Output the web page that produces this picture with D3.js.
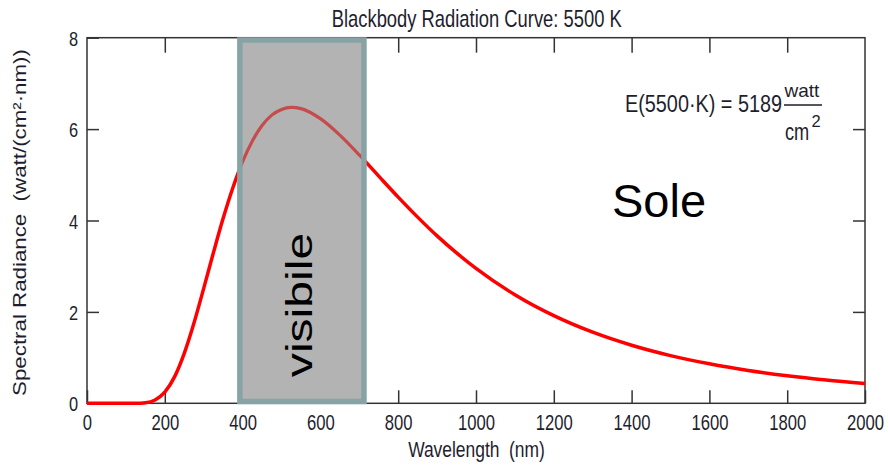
<!DOCTYPE html>
<html>
<head>
<meta charset="utf-8">
<script src="https://cdn.jsdelivr.net/npm/d3@7"></script>
<style>
  html, body { margin: 0; padding: 0; background: #fff; }
  svg { display: block; }
  text { font-family: "Liberation Sans", Arial, sans-serif; white-space: pre; }
</style>
</head>
<body>
<svg id="chart" width="890" height="466"></svg>
<script>
// ---- data ----
const wavelength = [0, 50, 100, 125, 150, 175, 200, 225, 250, 275, 300, 325, 350, 375, 400, 425, 450, 475, 500, 525, 550, 600, 650, 700, 750, 800, 850, 900, 950, 1000, 1100, 1200, 1300, 1400, 1500, 1600, 1700, 1800, 1900, 2000];
const radiance   = [0, 0, 0, 0.001, 0.013, 0.074, 0.244, 0.578, 1.094, 1.758, 2.515, 3.297, 4.047, 4.717, 5.286, 5.740, 6.078, 6.306, 6.431, 6.475, 6.449, 6.228, 5.868, 5.434, 4.971, 4.512, 4.074, 3.663, 3.290, 2.951, 2.375, 1.917, 1.555, 1.270, 1.044, 0.864, 0.720, 0.604, 0.510, 0.433];
const xTicks = [0, 200, 400, 600, 800, 1000, 1200, 1400, 1600, 1800, 2000];
const yTicks = [0, 2, 4, 6, 8];
const visibleBand = [393, 712];     // nm
const visibleBandY = [0.04, 7.95];  // radiance units
const titleText = "Blackbody Radiation Curve: 5500 K";
const xLabel = "Wavelength  (nm)";
const yLabel = "Spectral Radiance  (watt/(cm\u00B2\u00B7nm))";

const svg = d3.select("#chart");
const x = d3.scaleLinear().domain([0, 2000]).range([87, 865]);
const y = d3.scaleLinear().domain([0, 8]).range([403.3, 37.7]);

const pts = wavelength.map((w, i) => [w, radiance[i]]);
const line = d3.line().x(d => x(d[0])).y(d => y(d[1])).curve(d3.curveMonotoneX);

// clip for the band interior
const bx0 = x(visibleBand[0]), bx1 = x(visibleBand[1]);
const by0 = y(visibleBandY[1]), by1 = y(visibleBandY[0]);
svg.append("defs").append("clipPath").attr("id", "bandClip")
  .append("rect").attr("x", bx0).attr("y", by0).attr("width", bx1 - bx0).attr("height", by1 - by0);

// axes ticks (inward on all four sides)
const gB = svg.append("g").attr("transform", `translate(0,${y(0)})`)
  .call(d3.axisBottom(x).tickValues(xTicks).tickSizeInner(-13).tickSizeOuter(0).tickFormat(d3.format("d")));
const gT = svg.append("g").attr("transform", `translate(0,${y(8)})`)
  .call(d3.axisTop(x).tickValues(xTicks.slice(1, -1)).tickSizeInner(-15).tickSizeOuter(0).tickFormat(""));
const gL = svg.append("g").attr("transform", `translate(${x(0)},0)`)
  .call(d3.axisLeft(y).tickValues(yTicks).tickSizeInner(-12).tickSizeOuter(0).tickFormat(d3.format("d")));
const gR = svg.append("g").attr("transform", `translate(${x(2000)},0)`)
  .call(d3.axisRight(y).tickValues(yTicks.slice(1, -1)).tickSizeInner(-12).tickSizeOuter(0).tickFormat(""));
[gB, gT, gL, gR].forEach(g => {
  g.select(".domain").remove();
  g.selectAll(".tick line").attr("stroke", "#333").attr("stroke-width", 1.5);
});
gB.selectAll(".tick text")
  .attr("y", 27).attr("dy", 0)
  .attr("fill", "#1e1e2e")
  .style("font-size", "22.5px")
  .attr("transform", "scale(0.74,1)");
gL.selectAll(".tick text")
  .attr("x", -9 / 0.78).attr("dy", "0.36em")
  .attr("fill", "#1e1e2e")
  .style("font-size", "21px")
  .attr("transform", "scale(0.78,1)");

// frame
svg.append("rect")
  .attr("x", x(0)).attr("y", y(8))
  .attr("width", x(2000) - x(0)).attr("height", y(0) - y(8))
  .attr("fill", "none").attr("stroke", "#333").attr("stroke-width", 1.5);

// curve
svg.append("path").datum(pts).attr("d", line)
  .attr("fill", "none").attr("stroke", "#ff0000").attr("stroke-width", 3.5)
  .attr("stroke-linejoin", "round");

// visible band
svg.append("rect").attr("x", bx0).attr("y", by0).attr("width", bx1 - bx0).attr("height", by1 - by0)
  .attr("fill", "#b3b3b3");
svg.append("path").datum(pts).attr("d", line).attr("clip-path", "url(#bandClip)")
  .attr("fill", "none").attr("stroke", "#c44c4c").attr("stroke-width", 3.2);
svg.append("rect").attr("x", bx0).attr("y", by0).attr("width", bx1 - bx0).attr("height", by1 - by0)
  .attr("fill", "none").attr("stroke", "#88a3a5").attr("stroke-width", 5.5);

// title
svg.append("text").attr("transform", "translate(476.7,27) scale(0.766,1)")
  .attr("text-anchor", "middle").style("font-size", "24px").attr("fill", "#1e1e2e")
  .text(titleText);

// x label
svg.append("text").attr("transform", "translate(476.5,457) scale(0.81,1)")
  .attr("text-anchor", "middle").style("font-size", "21.5px").attr("fill", "#1e1e2e")
  .text(xLabel);

// y label
svg.append("text").attr("transform", "translate(26,222.5) rotate(-90) scale(1.26,1)")
  .attr("text-anchor", "middle").style("font-size", "17.7px").attr("fill", "#1e1e2e")
  .text(yLabel);

// formula
svg.append("text").attr("transform", "translate(625,112) scale(0.862,1)")
  .style("font-size", "23px").attr("fill", "#1e1e2e")
  .text("E(5500\u00B7K) = 5189");
svg.append("text").attr("transform", "translate(784.5,97)")
  .style("font-size", "19px").attr("fill", "#1e1e2e")
  .text("watt");
svg.append("line").attr("x1", 784).attr("x2", 822).attr("y1", 105).attr("y2", 105)
  .attr("stroke", "#1e1e2e").attr("stroke-width", 1.5);
svg.append("text").attr("transform", "translate(785,140) scale(0.76,1)")
  .style("font-size", "24px").attr("fill", "#1e1e2e")
  .text("cm");
svg.append("text").attr("transform", "translate(811.5,127)")
  .style("font-size", "16.5px").attr("fill", "#1e1e2e")
  .text("2");

// annotations
svg.append("text").attr("x", 612).attr("y", 217)
  .style("font-size", "47px").attr("fill", "#000")
  .text("Sole");
svg.append("text").attr("transform", "translate(312,305) rotate(-90) scale(1.3,1)")
  .attr("text-anchor", "middle").style("font-size", "37px").attr("fill", "#000")
  .text("visibile");
</script>
</body>
</html>
